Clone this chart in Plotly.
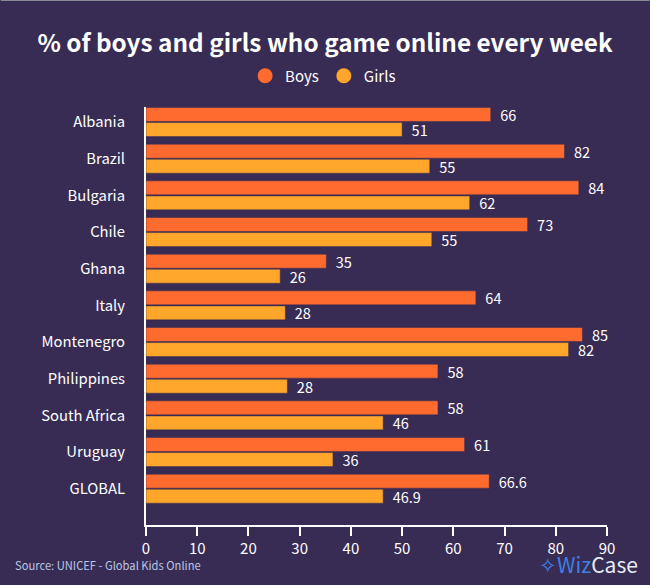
import plotly.graph_objects as go

categories = ["Albania","Brazil","Bulgaria","Chile","Ghana","Italy","Montenegro","Philippines","South Africa","Uruguay","GLOBAL"]
boys_bar = [67.3,81.7,84.5,74.5,35.2,64.4,85.2,57.0,57.0,62.2,67.0]
girls_bar = [50.0,55.4,63.2,55.8,26.2,27.2,82.5,27.6,46.3,36.5,46.3]
boys_labels = ["66","82","84","73","35","64","85","58","58","61","66.6"]
girls_labels = ["51","55","62","55","26","28","82","28","46","36","46.9"]
x_ticks = [0,10,20,30,40,50,60,70,80,90]

BG = "#382c54"
BOYS = "#ff6b2e"
GIRLS = "#ffa62b"
FONT = "Noto Sans CJK SC"

L, R, T, B = 145.5, 607.5, 107, 525
PW, PH = R - L, B - T
def px(x): return (x - L) / PW
def py(y): return (B - y) / PH

fig = go.Figure()
for name, vals, labs, col in [("Boys", boys_bar, boys_labels, BOYS), ("Girls", girls_bar, girls_labels, GIRLS)]:
    fig.add_trace(go.Bar(
        y=categories, x=vals, orientation="h", name=name, showlegend=False,
        marker=dict(color=col, line=dict(color=BG, width=0.5)),
        text=["\u00a0\u00a0" + s for s in labs], textposition="outside", cliponaxis=False,
        constraintext="none",
        textfont=dict(family=FONT, size=14.5, color="white"), hoverinfo="skip",
    ))
    fig.add_trace(go.Scatter(
        x=[None], y=[None], mode="markers", name=name,
        marker=dict(symbol="circle", size=15, color=col),
    ))

fig.update_layout(
    width=650, height=585,
    margin=dict(l=L, r=650-R, t=T, b=585-B, autoexpand=False),
    paper_bgcolor=BG, plot_bgcolor=BG,
    barmode="group", bargap=0.18, bargroupgap=0.07,
    font=dict(family=FONT, color="white"),
    title=dict(text="<b>% of boys and girls who game online every week</b>",
               x=0.5, xanchor="center", y=1-43/585, yanchor="middle",
               font=dict(family=FONT, size=24.3, color="white")),
    legend=dict(orientation="h", x=px(323), xanchor="center", y=py(76), yanchor="middle",
                font=dict(family=FONT, size=15, color="white"),
                bgcolor="rgba(0,0,0,0)", itemsizing="trace"),
    xaxis=dict(range=[0,90], tickvals=x_ticks, showgrid=False, zeroline=False,
               showline=True, linecolor="white", linewidth=2,
               ticks="outside", ticklen=9, tickwidth=1.5, tickcolor="white",
               tickfont=dict(family=FONT, size=15, color="white")),
    yaxis=dict(categoryorder="array", categoryarray=categories, range=[10.99,-0.41],
               showgrid=False, zeroline=False, showline=True, linecolor="white", linewidth=2,
               ticks="", ticklabelstandoff=16,
               tickfont=dict(family=FONT, size=14.8, color="white")),
    shapes=[dict(type="rect", xref="paper", yref="paper", x0=px(0), x1=px(650), y0=py(1), y1=py(0),
                 line=dict(width=0), fillcolor="#8a8a94")],
    annotations=[
        dict(text="Source: UNICEF - Global Kids Online", xref="paper", yref="paper",
             x=px(12), y=py(565), xanchor="left", yanchor="middle", showarrow=False,
             font=dict(family=FONT, size=11.2, color="#b9c6e6")),
        dict(text="<span style='color:#3f7fe0'>✧Wiz</span><span style='color:#e8ecf5'>Case</span>",
             xref="paper", yref="paper", x=px(641), y=py(564), xanchor="right", yanchor="middle",
             showarrow=False, font=dict(family=FONT, size=21)),
    ],
)
fig.write_html("out.html", config=dict(displayModeBar=False),
               post_script="document.body.style.margin='0';document.documentElement.style.overflow='hidden';")
